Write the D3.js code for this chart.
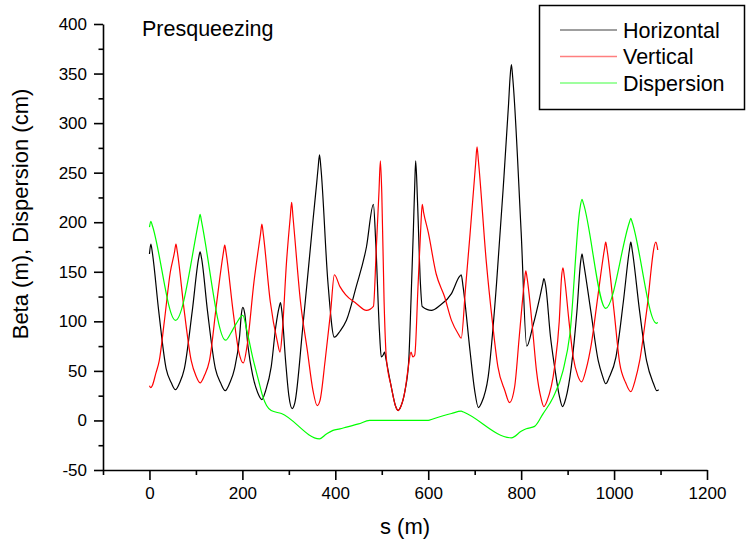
<!DOCTYPE html>
<html>
<head>
<meta charset="utf-8">
<script src="https://cdn.jsdelivr.net/npm/d3@7"></script>
<style>
  body { margin: 0; background: #fff; }
  svg { display: block; font-family: "Liberation Sans", Arial, sans-serif; }
</style>
</head>
<body>
<div id="chart"></div>
<script>

var width = 746;
var height = 542;

// [s (m), value]
var horizontal = [
  [0,168],[3,178],[6,170],[20,110],[36,52],[47,38],[56,31],[65,38],[75,52],[92,110],
  [106,164],[109,170],[112,164],[125,110],[142,52],[153,38],[163,30],[173,38],[183,52],[194,85],
  [198,108],[201,114],[205,108],[212,75],[222,46],[233,28],[242,21],[250,30],[262,54],[272,95],
  [279,114],[282,119],[285,110],[293,60],[300,25],[307,12],[313,18],[330,94],[352,202],[360,240],
  [363,255],[366,268],[369,255],[384,140],[398,84],[410,90],[424,101],[445,135],[467,175],[482,218],
  [487,180],[495,90],[499,64],[503,66],[506,69],[509,62],[520,35],[530,14],[535,10],[541,14],
  [550,30],[558,60],[563,122],[568,192],[571,238],[573,262],[577,220],[583,140],[587,115],[607,111],
  [625,116],[650,128],[667,145],[671,147],[675,135],[690,70],[700,30],[708,13],[715,18],
  [729,44],[747,138],[761,232],[773,320],[776,345],[779,359],[782,345],[800,190],[812,75],[825,95],
  [840,124],[846,137],[849,143],[853,135],[863,85],[872,54],[882,25],[889,14],[896,22],[908,54],
  [920,110],[928,160],[931,168],[934,160],[950,110],[966,60],[975,45],[982,37],[990,44],[1004,64],
  [1020,120],[1033,172],[1036,180],[1039,172],[1055,110],[1070,60],[1085,37],[1092,30],[1096,31]
];

var vertical = [
  [0,35],[3,33],[6,35],[14,48],[21,60],[32,100],[45,150],[54,170],[57,178],[60,170],[75,110],
  [90,60],[100,45],[109,38],[118,45],[129,60],[145,120],[159,169],[162,177],[165,169],[180,110],
  [192,70],[202,58],[210,75],[225,140],[239,188],[242,198],[245,188],[260,120],[275,80],[281,69],
  [286,90],[295,160],[303,205],[306,220],[309,205],[325,120],[340,70],[352,30],[361,15],[367,20],
  [378,60],[390,110],[398,147],[410,135],[422,127],[445,118],[467,111],[482,115],[488,171],
  [494,231],[497,262],[500,230],[505,120],[510,62],[520,35],[530,14],[535,10],[541,14],[550,30],
  [556,50],[563,69],[567,64],[571,66],[578,135],[584,195],[587,218],[590,210],[600,190],[617,148],[635,125],
  [650,101],[665,87],[671,83],[680,132],[690,188],[702,259],[705,276],[708,262],[725,160],[738,100],
  [750,54],[765,30],[775,18],[786,34],[796,85],[807,140],[810,151],[813,143],[825,90],[833,50],
  [843,22],[849,14],[856,20],[872,54],[882,100],[887,145],[890,154],[893,145],[903,100],[912,64],
  [922,45],[930,39],[940,52],[951,77],[965,125],[979,172],[982,180],[985,172],[1000,110],[1012,58],
  [1025,38],[1036,29],[1045,40],[1055,60],[1070,110],[1090,180],[1094,172]
];

var dispersion = [
  [0,195],[3,201],[6,197],[56,101],[106,201],[109,208],[112,201],[164,81],[175,88],[187,98],
  [201,106],[210,90],[222,64],[235,40],[244,24],[252,15],[262,10],[284,7],[366,-18.5],
  [380,-14],[395,-10],[410,-8.5],[424,-6.7],[450,-3.5],[474,0],[600,0],[610,1.5],[650,7],[671,9.4],
  [676,8.5],[779,-17.5],[800,-11],[811,-8.4],[829,-6],[847,6.7],[869,23.5],[890,50],
  [905,87.5],[926,212],[931,223],[934,219],[982,113],[1033,200],[1036,204],[1039,200],[1091,98],[1094,99]
];

var seriesNames = ["Horizontal", "Vertical", "Dispersion"];
var seriesColors = ["#000000", "#ff0000", "#00ff00"];
var seriesData = [horizontal, vertical, dispersion];

var xMajor = [0, 200, 400, 600, 800, 1000, 1200];
var xMinor = [-100, 100, 300, 500, 700, 900, 1100];
var yMajor = [-50, 0, 50, 100, 150, 200, 250, 300, 350, 400];
var yMinor = [-25, 25, 75, 125, 175, 225, 275, 325, 375];

var svg = d3.select("#chart")
            .append("svg")
            .attr("width", width)
            .attr("height", height);

var x = d3.scaleLinear().domain([-100, 1200]).range([103, 707]);
var y = d3.scaleLinear().domain([-50, 400]).range([470, 24]);

// curves
var line = d3.line()
             .x(function(d) { return x(d[0]); })
             .y(function(d) { return y(d[1]); })
             .curve(d3.curveMonotoneX);

svg.selectAll("path.series")
   .data(seriesData).enter()
   .append("path")
   .attr("class", "series")
   .attr("d", line)
   .attr("fill", "none")
   .attr("stroke", function(d, i) { return seriesColors[i]; })
   .attr("stroke-width", 1.2);

// axes
var plain = function(d) { return String(d); };

svg.append("g")
   .attr("transform", "translate(0,470)")
   .call(d3.axisBottom(x).tickValues(xMajor).tickFormat(plain).tickSize(10).tickPadding(7).tickSizeOuter(0));
svg.append("g")
   .attr("transform", "translate(0,470)")
   .call(d3.axisBottom(x).tickValues(xMinor).tickSize(5).tickFormat("").tickSizeOuter(0))
   .select(".domain").remove();

svg.append("g")
   .attr("transform", "translate(103,0)")
   .call(d3.axisLeft(y).tickValues(yMajor).tickFormat(plain).tickSize(9).tickPadding(7).tickSizeOuter(0));
svg.append("g")
   .attr("transform", "translate(103,0)")
   .call(d3.axisLeft(y).tickValues(yMinor).tickSize(4.5).tickFormat("").tickSizeOuter(0))
   .select(".domain").remove();

svg.selectAll(".domain, .tick line")
   .attr("stroke", "#000")
   .attr("stroke-width", 1.6);

svg.selectAll(".tick text")
   .attr("font-size", 17)
   .attr("font-family", "Liberation Sans, Arial, sans-serif")
   .attr("fill", "#000");

// axis titles
svg.append("text")
   .attr("x", 405)
   .attr("y", 534)
   .attr("text-anchor", "middle")
   .attr("font-size", 22)
   .text("s (m)");

svg.append("text")
   .attr("transform", "translate(28,214) rotate(-90)")
   .attr("text-anchor", "middle")
   .attr("font-size", 22)
   .text("Beta (m), Dispersion (cm)");

svg.append("text")
   .attr("x", 142)
   .attr("y", 36)
   .attr("font-size", 21.5)
   .text("Presqueezing");

// legend
var legend = svg.append("g");
legend.append("rect")
      .attr("x", 539.5)
      .attr("y", 5.5)
      .attr("width", 205)
      .attr("height", 104)
      .attr("fill", "#fff")
      .attr("stroke", "#000")
      .attr("stroke-width", 1.5);

var items = legend.selectAll("g.item")
                  .data(seriesNames).enter()
                  .append("g")
                  .attr("class", "item")
                  .attr("transform", function(d, i) { return "translate(0," + (30 + i * 26.5) + ")"; });

items.append("line")
     .attr("x1", 560).attr("x2", 617)
     .attr("y1", 0).attr("y2", 0)
     .attr("stroke", function(d, i) { return seriesColors[i]; })
     .attr("stroke-opacity", 0.5)
     .attr("stroke-width", 1.5);

items.append("text")
     .attr("x", 623)
     .attr("y", 7.5)
     .attr("font-size", 21.5)
     .text(function(d) { return d; });

</script>
</body>
</html>
